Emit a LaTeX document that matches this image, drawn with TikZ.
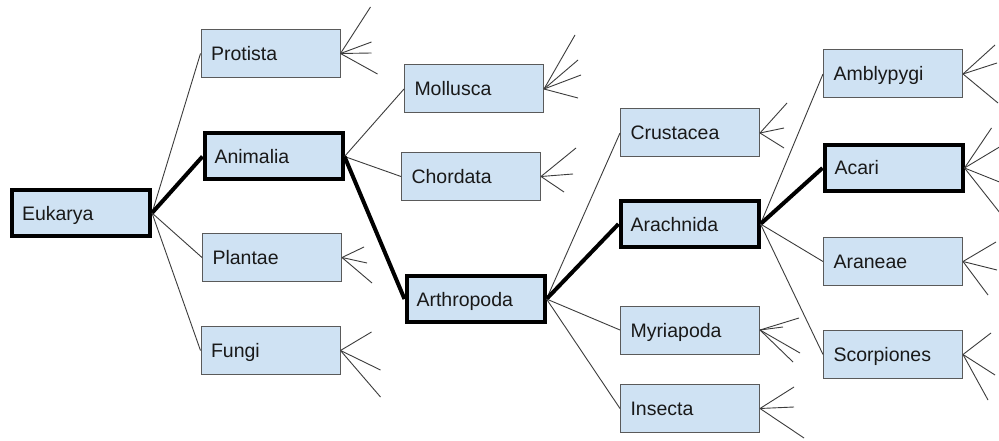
\documentclass[tikz,border=0pt]{standalone}
\usepackage{fontspec}
\setmainfont{Liberation Sans}
\definecolor{boxblue}{RGB}{207,226,243}
\definecolor{boxline}{RGB}{90,90,90}
\definecolor{thinline}{RGB}{60,60,60}
\definecolor{txt}{RGB}{25,25,25}
\tikzset{
  box/.style={draw=boxline, line width=1pt, fill=boxblue, inner xsep=10pt, inner ysep=0pt,
    text width=119pt, align=left, minimum height=48pt, text height=14pt, text depth=0pt,
    text=txt, font=\fontsize{19.5}{23}\selectfont},
  boldbox/.style={box, draw=black, line width=4pt, text width=118pt, minimum height=46pt},
  thin/.style={draw=thinline, line width=0.9pt},
  thick/.style={draw=black, line width=4pt},
  fan/.style={draw=thinline, line width=0.9pt}
}
\begin{document}
\begin{tikzpicture}[x=1pt, y=-1pt]
\clip (0,0) rectangle (999,441);
\fill[white] (0,0) rectangle (999,441);

\node[boldbox] (eukarya) at (81,213) {Eukarya};
\node[box] (protista) at (270.5,53.5) {Protista};
\node[boldbox] (animalia) at (273.5,156.5) {Animalia};
\node[box] (plantae) at (272,257.5) {Plantae};
\node[box] (fungi) at (270.5,350.5) {Fungi};
\node[box] (mollusca) at (474,89) {Mollusca};
\node[box] (chordata) at (471,176.5) {Chordata};
\node[boldbox] (arthropoda) at (475.5,299) {Arthropoda};
\node[box] (crustacea) at (690,133) {Crustacea};
\node[boldbox] (arachnida) at (689.5,224) {Arachnida};
\node[box] (myriapoda) at (690,330) {Myriapoda};
\node[box] (insecta) at (690,408.5) {Insecta};
\node[box] (amblypygi) at (893,74) {Amblypygi};
\node[boldbox] (acari) at (893.5,168) {Acari};
\node[box] (araneae) at (893,261.5) {Araneae};
\node[box] (scorpiones) at (893,354.5) {Scorpiones};

% tree connectors
\draw[thin] (eukarya.east) -- (protista.west);
\draw[thick] (eukarya.east) -- (animalia.west);
\draw[thin] (eukarya.east) -- (plantae.west);
\draw[thin] (eukarya.east) -- (fungi.west);
\draw[thin] (animalia.east) -- (mollusca.west);
\draw[thin] (animalia.east) -- (chordata.west);
\draw[thick] (animalia.east) -- (arthropoda.west);
\draw[thin] (arthropoda.east) -- (crustacea.west);
\draw[thick] (arthropoda.east) -- (arachnida.west);
\draw[thin] (arthropoda.east) -- (myriapoda.west);
\draw[thin] (arthropoda.east) -- (insecta.west);
\draw[thin] (arachnida.east) -- (amblypygi.west);
\draw[thick] (arachnida.east) -- (acari.west);
\draw[thin] (arachnida.east) -- (araneae.west);
\draw[thin] (arachnida.east) -- (scorpiones.west);

% fans
\foreach \dx/\dy in {30/-46.5, 31/-11.5, 31/-0.5, 37/20.5}
  \draw[fan] (protista.east) -- ++(\dx,\dy);
\foreach \dx/\dy in {22/-10.5, 25/5.5, 30/25.5}
  \draw[fan] (plantae.east) -- ++(\dx,\dy);
\foreach \dx/\dy in {31/-18.5, 40/19.5, 40/46.5}
  \draw[fan] (fungi.east) -- ++(\dx,\dy);
\foreach \dx/\dy in {31/-54, 34/-29, 37/-14, 34/9}
  \draw[fan] (mollusca.east) -- ++(\dx,\dy);
\foreach \dx/\dy in {35/-28.5, 32/-2.5, 23/15.5}
  \draw[fan] (chordata.east) -- ++(\dx,\dy);
\foreach \dx/\dy in {27/-30, 24/-5, 24/15}
  \draw[fan] (crustacea.east) -- ++(\dx,\dy);
\foreach \dx/\dy in {39/-12, 23/-3, 40/23, 33/32}
  \draw[fan] (myriapoda.east) -- ++(\dx,\dy);
\foreach \dx/\dy in {34/-21.5, 34/-1.5, 44/29.5}
  \draw[fan] (insecta.east) -- ++(\dx,\dy);
\foreach \dx/\dy in {32/-29, 34/-11, 35/29}
  \draw[fan] (amblypygi.east) -- ++(\dx,\dy);
\foreach \dx/\dy in {27/-40, 45/-27, 45/18, 45/57}
  \draw[fan] (acari.east) -- ++(\dx,\dy);
\foreach \dx/\dy in {33/-19.5, 34/8.5, 25/33.5}
  \draw[fan] (araneae.east) -- ++(\dx,\dy);
\foreach \dx/\dy in {28/-21.5, 32/20.5, 25/45.5}
  \draw[fan] (scorpiones.east) -- ++(\dx,\dy);
\end{tikzpicture}
\end{document}
